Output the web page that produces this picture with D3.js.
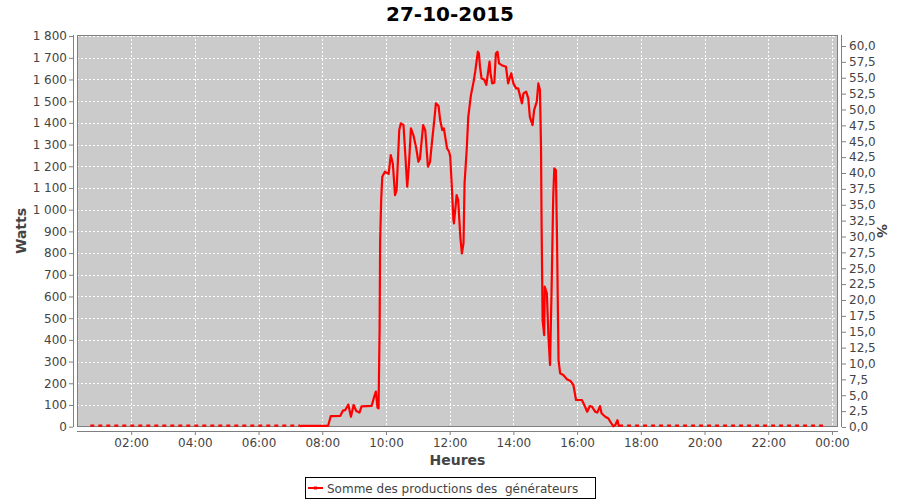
<!DOCTYPE html>
<html>
<head>
<meta charset="utf-8">
<script src="https://cdn.jsdelivr.net/npm/d3@7"></script>
<style>
  html, body { margin: 0; padding: 0; background: #ffffff; }
  svg { display: block; font-family: "DejaVu Sans", sans-serif; }
</style>
</head>
<body>
<svg id="chart" width="900" height="500"></svg>
<script>
// ---------------- data ----------------
const chartTitle = "27-10-2015";
const seriesName = "Somme des productions des\u00a0 générateurs";
const times = [
  "00:43","01:30","01:40","02:30","04:00","06:00","07:18","07:20","07:45","08:11",
  "08:16","08:19","08:34","08:39","08:43","08:49","08:54","08:59","09:04","09:10",
  "09:14","09:33","09:38","09:41","09:44","09:46","09:48","09:49","09:51","09:53",
  "09:58","10:05","10:09","10:13","10:17","10:20","10:25","10:28","10:33","10:37",
  "10:40","10:43","10:47","10:52","10:57","11:01","11:04","11:10","11:14","11:19",
  "11:23","11:27","11:31","11:34","11:39","11:42","11:46","11:49","11:55","11:59",
  "12:01","12:04","12:07","12:08","12:11","12:13","12:16","12:20","12:23","12:26",
  "12:28","12:32","12:35","12:40","12:45","12:48","12:53","12:55","12:57","13:00",
  "13:05","13:09","13:15","13:17","13:20","13:24","13:27","13:30","13:33","13:38",
  "13:46","13:50","13:56","14:00","14:05","14:09","14:16","14:19","14:24","14:28",
  "14:31","14:36","14:39","14:44","14:47","14:50","14:52","14:53","14:55","14:58",
  "14:59","15:03","15:06","15:09","15:12","15:15","15:17","15:20","15:22","15:25",
  "15:28","15:34","15:41","15:47","15:53","15:58","16:09","16:15","16:19","16:24",
  "16:28","16:34","16:38","16:43","16:46","16:53","16:59","17:02","17:08","17:12",
  "17:16","17:19","17:21","20:00","22:00","23:49"
];
const watts = [
  0,0,0,0,0,0,0,4,4,4,
  49,49,50,74,76,102,46,100,72,65,
  94,96,140,162,88,85,450,860,1050,1152,
  1175,1165,1252,1210,1067,1090,1367,1398,1390,1229,
  1106,1198,1375,1340,1283,1221,1235,1390,1365,1198,
  1221,1321,1413,1490,1478,1413,1367,1375,1283,1267,
  1244,1106,952,937,1013,1067,1044,875,799,845,
  1121,1275,1428,1528,1589,1635,1728,1720,1660,1605,
  1600,1575,1682,1628,1582,1585,1720,1728,1674,1666,
  1659,1582,1628,1582,1559,1559,1490,1536,1544,1513,
  1428,1390,1459,1498,1582,1552,1290,952,491,422,
  645,614,415,284,645,1060,1190,1183,891,307,
  246,238,218,212,192,123,123,92,69,95,
  92,69,65,95,62,46,38,25,2,8,
  30,0,0,0,0,0
];
const leftTicks = [0,100,200,300,400,500,600,700,800,900,1000,1100,1200,1300,1400,1500,1600,1700,1800];
const rightTicks = [0,2.5,5,7.5,10,12.5,15,17.5,20,22.5,25,27.5,30,32.5,35,37.5,40,42.5,45,47.5,50,52.5,55,57.5,60];
const hourTicks = ["02:00","04:00","06:00","08:00","10:00","12:00","14:00","16:00","18:00","20:00","22:00","00:00"];

// ---------------- layout ----------------
const P = { left: 77, right: 838, top: 35, bottom: 427 };
const svg = d3.select("#chart");
const textColor = "#444444";
const axisColor = "#808080";

const day = (hm, next) => {
  const [h, m] = hm.split(":").map(Number);
  return new Date(2015, 9, next ? 28 : 27, h, m);
};
const data = times.map((t, i) => ({ t: day(t), w: watts[i] }));
const tickDates = hourTicks.map(t => day(t, t === "00:00"));

const x = d3.scaleTime()
  .domain([new Date(2015, 9, 27, 0, 18), new Date(2015, 9, 28, 0, 11, 24)])
  .range([P.left, P.right]);
const y = d3.scaleLinear().domain([-1.5, 1805]).range([P.bottom, P.top]);
const yR = d3.scaleLinear().domain([0, 61.73]).range([P.bottom, P.top]);

// plot background
svg.append("rect")
  .attr("x", P.left).attr("y", P.top)
  .attr("width", P.right - P.left).attr("height", P.bottom - P.top)
  .attr("fill", "#cbcbcb");

// gridlines
const grid = svg.append("g").attr("stroke", "#ffffff").attr("stroke-width", 1)
  .attr("stroke-dasharray", "2,2");
grid.selectAll("line.h").data(leftTicks).join("line")
  .attr("x1", P.left).attr("x2", P.right)
  .attr("y1", d => Math.round(y(d)) + 0.5).attr("y2", d => Math.round(y(d)) + 0.5);
grid.selectAll("line.v").data(tickDates).join("line")
  .attr("y1", P.top).attr("y2", P.bottom)
  .attr("x1", d => Math.round(x(d)) + 0.5).attr("x2", d => Math.round(x(d)) + 0.5);

// plot border
svg.append("rect")
  .attr("x", P.left + 0.5).attr("y", P.top + 0.5)
  .attr("width", P.right - P.left - 1).attr("height", P.bottom - P.top - 1)
  .attr("fill", "none").attr("stroke", axisColor);

// series: solid where producing, dashed where zero run
svg.append("clipPath").attr("id", "clip").append("rect")
  .attr("x", P.left).attr("y", P.top - 2)
  .attr("width", P.right - P.left).attr("height", P.bottom - P.top + 3);
const line = d3.line().x(d => x(d.t)).y(d => y(d.w));
const segs = [];
for (let i = 0; i < data.length - 1; i++) {
  const zero = data[i].w === 0 && data[i + 1].w === 0;
  const last = segs[segs.length - 1];
  if (last && last.zero === zero) last.pts.push(data[i + 1]);
  else segs.push({ zero, pts: [data[i], data[i + 1]] });
}
const lineG = svg.append("g").attr("clip-path", "url(#clip)");
lineG.selectAll("path").data(segs).join("path")
  .attr("d", d => line(d.pts))
  .attr("transform", d => d.zero ? "translate(0,-1)" : null)
  .attr("fill", "none")
  .attr("stroke", "#ff0000")
  .attr("stroke-width", 2.2)
  .attr("stroke-linejoin", "round")
  .attr("stroke-dasharray", d => d.zero ? "4,4" : null);

// axes
function styleAxis(g) {
  g.select(".domain").attr("stroke", axisColor);
  g.selectAll(".tick line").attr("stroke", axisColor);
  g.selectAll(".tick text").attr("fill", textColor)
    .style("font-family", "DejaVu Sans").style("font-size", "12px");
}
const fmtW = d => d3.format(",")(d).replace(/,/g, "\u00a0");
svg.append("g").attr("transform", `translate(${P.left - 4},0)`)
  .call(d3.axisLeft(y).tickValues(leftTicks).tickSize(4).tickSizeOuter(0).tickPadding(2).tickFormat(fmtW))
  .call(styleAxis)
  .call(g => g.select(".domain").attr("d", `M0.5,${P.top}V${P.bottom}`));
svg.append("g").attr("transform", `translate(${P.right + 4},0)`)
  .call(d3.axisRight(yR).tickValues(rightTicks).tickSize(4).tickSizeOuter(0).tickPadding(3)
    .tickFormat(d => d3.format(".1f")(d).replace(".", ",")))
  .call(styleAxis)
  .call(g => g.select(".domain").attr("d", `M-0.5,${P.top}V${P.bottom}`));
svg.append("g").attr("transform", `translate(0,${P.bottom + 4})`)
  .call(d3.axisBottom(x).tickValues(tickDates).tickSize(4).tickSizeOuter(0).tickPadding(3)
    .tickFormat(d3.timeFormat("%H:%M")))
  .call(styleAxis)
  .call(g => g.select(".domain").attr("d", `M${P.left},0.5H${P.right}`));

// title and axis labels
svg.append("text").attr("x", 450).attr("y", 21).attr("text-anchor", "middle")
  .attr("font-size", 20).attr("font-weight", "bold").attr("fill", "#000")
  .text(chartTitle);
svg.append("text").attr("transform", `translate(26,${(P.top + P.bottom) / 2}) rotate(-90)`)
  .attr("text-anchor", "middle").attr("font-size", 14).attr("font-weight", "bold")
  .attr("fill", textColor).text("Watts");
svg.append("text").attr("x", (P.left + P.right) / 2).attr("y", 465)
  .attr("text-anchor", "middle").attr("font-size", 14).attr("font-weight", "bold")
  .attr("fill", textColor).text("Heures");
svg.append("text").attr("transform", `translate(877,${(P.top + P.bottom) / 2}) rotate(90)`)
  .attr("text-anchor", "middle").attr("font-size", 14).attr("font-weight", "bold")
  .attr("fill", textColor).text("%");

// legend
const lg = svg.append("g");
lg.append("rect").attr("x", 305.5).attr("y", 477.5).attr("width", 290).attr("height", 21)
  .attr("fill", "#ffffff").attr("stroke", "#000000");
lg.append("line").attr("x1", 308).attr("x2", 323).attr("y1", 488).attr("y2", 488)
  .attr("stroke", "#ff0000").attr("stroke-width", 2);
lg.append("rect").attr("x", 314).attr("y", 486.5).attr("width", 3).attr("height", 3).attr("fill", "#ff0000");
lg.append("text").attr("x", 327).attr("y", 492.5).attr("font-size", 12)
  .attr("fill", textColor).text(seriesName);
</script>
</body>
</html>
